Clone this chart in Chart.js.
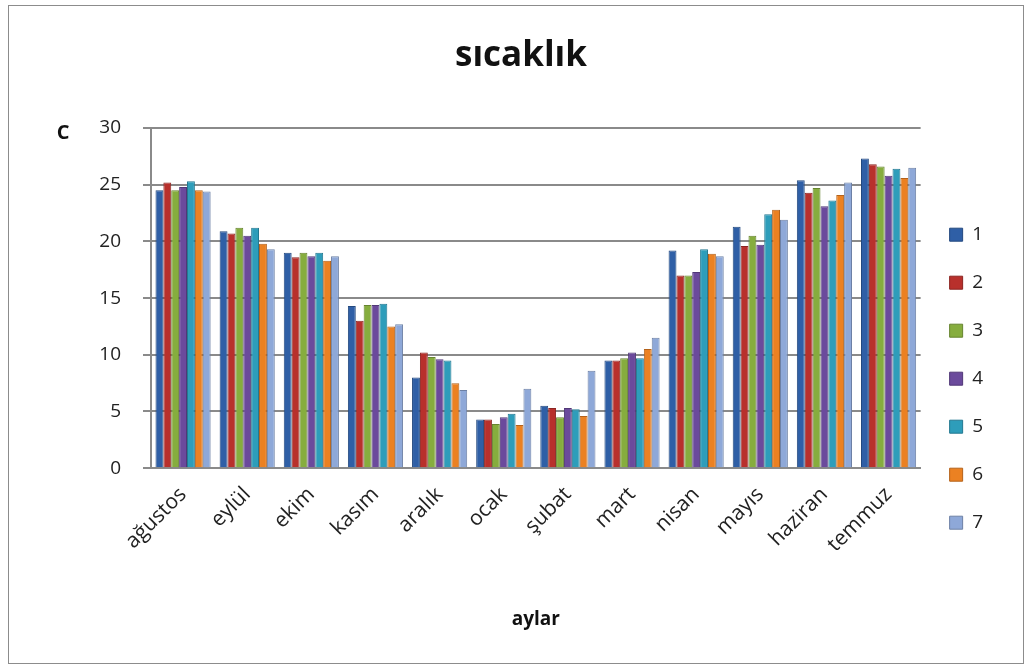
<!DOCTYPE html>
<html lang="tr">
<head>
<meta charset="utf-8">
<title>sıcaklık</title>
<script src="https://cdn.jsdelivr.net/npm/chart.js@4/dist/chart.umd.min.js"></script>
<style>
  html, body { margin: 0; padding: 0; background: #ffffff; }
  #frame {
    position: absolute; left: 8px; top: 5px;
    width: 1016px; height: 659px;
    border: 1px solid #8c8c8c;
    box-sizing: border-box;
  }
  #frame canvas { display: block; }
</style>
</head>
<body>
<div id="frame"><canvas id="chart"></canvas></div>
<script>
// Months along the x axis
const months = ['ağustos', 'eylül', 'ekim', 'kasım', 'aralık', 'ocak', 'şubat', 'mart', 'nisan', 'mayıs', 'haziran', 'temmuz'];

// Temperatures (°C) for each of the seven series, one value per month
const series1 = [24.5, 20.9, 19.0, 14.3, 8.0, 4.3, 5.5, 9.5, 19.2, 21.3, 25.4, 27.3];
const series2 = [25.2, 20.7, 18.6, 13.0, 10.2, 4.3, 5.3, 9.5, 17.0, 19.6, 24.3, 26.8];
const series3 = [24.5, 21.2, 19.0, 14.4, 9.8, 3.9, 4.5, 9.7, 17.0, 20.5, 24.7, 26.6];
const series4 = [24.8, 20.5, 18.7, 14.4, 9.6, 4.5, 5.3, 10.2, 17.3, 19.7, 23.1, 25.8];
const series5 = [25.3, 21.2, 19.0, 14.5, 9.5, 4.8, 5.2, 9.7, 19.3, 22.4, 23.6, 26.4];
const series6 = [24.5, 19.8, 18.3, 12.5, 7.5, 3.8, 4.6, 10.5, 18.9, 22.8, 24.1, 25.6];
const series7 = [24.4, 19.3, 18.7, 12.7, 6.9, 7.0, 8.6, 11.5, 18.7, 21.9, 25.2, 26.5];

const seriesNames = ['1', '2', '3', '4', '5', '6', '7'];
const seriesValues = [series1, series2, series3, series4, series5, series6, series7];
const seriesColors = ['#2f5fa6', '#b8302c', '#86ad3e', '#6b4a9c', '#2e9dba', '#eb8122', '#8ea8d8'];
const seriesEdges  = ['#24497f', '#8c2421', '#66842f', '#513877', '#237890', '#b4621a', '#6d81a5'];

// Y ticks: 0 to 30 by 5
const yMin = 0, yMax = 30, yStep = 5;

const FONT = '"Open Sans", "Noto Sans", "Liberation Sans", sans-serif';

// Small axis caption "C" drawn above the y tick labels
const unitLabel = {
  id: 'unitLabel',
  afterDraw(chart) {
    const y = chart.scales.y;
    const ctx = chart.ctx;
    ctx.save();
    ctx.font = 'bold 20px ' + FONT;
    ctx.fillStyle = '#111';
    ctx.textAlign = 'center';
    ctx.textBaseline = 'middle';
    ctx.fillText('C', 54, y.top + 5);
    ctx.restore();
  }
};

new Chart(document.getElementById('chart'), {
  type: 'bar',
  data: {
    labels: months,
    datasets: seriesNames.map((name, i) => ({
      label: name,
      data: seriesValues[i],
      backgroundColor: seriesColors[i],
      borderColor: seriesEdges[i],
      borderWidth: 1,
      categoryPercentage: 0.86,
      barPercentage: 1.0
    }))
  },
  options: {
    responsive: true,
    maintainAspectRatio: false,
    animation: false,
    layout: { padding: { left: 40, right: 30, top: 0, bottom: 32 } },
    plugins: {
      title: {
        display: true,
        text: 'sıcaklık',
        color: '#111',
        font: { family: FONT, size: 35, weight: 'bold' },
        padding: { top: 29, bottom: 51 }
      },
      legend: {
        position: 'right',
        align: 'center',
        title: { display: true, text: ' ', font: { size: 12 }, padding: { top: 106, bottom: 0 } },
        labels: {
          color: '#222',
          font: { family: FONT, size: 19 },
          boxWidth: 13,
          boxHeight: 13,
          padding: 29
        }
      },
      tooltip: { enabled: false }
    },
    scales: {
      x: {
        grid: { display: false },
        border: { color: '#8a8a8a', width: 2 },
        ticks: {
          color: '#222',
          font: { family: FONT, size: 21 },
          maxRotation: 45,
          minRotation: 45,
          padding: 6
        },
        title: {
          display: true,
          text: 'aylar',
          color: '#111',
          font: { family: FONT, size: 19, weight: 'bold' },
          padding: { top: 45, bottom: 0 }
        }
      },
      y: {
        min: yMin,
        max: yMax,
        afterFit(scale) { scale.width = 102; },
        ticks: {
          stepSize: yStep,
          color: '#222',
          font: { family: FONT, size: 19 },
          padding: 22
        },
        grid: {
          color: '#8a8a8a',
          lineWidth: 2,
          tickLength: 8,
          tickColor: '#8a8a8a'
        },
        border: { color: '#8a8a8a', width: 2 }
      }
    }
  },
  plugins: [unitLabel]
});
</script>
</body>
</html>
